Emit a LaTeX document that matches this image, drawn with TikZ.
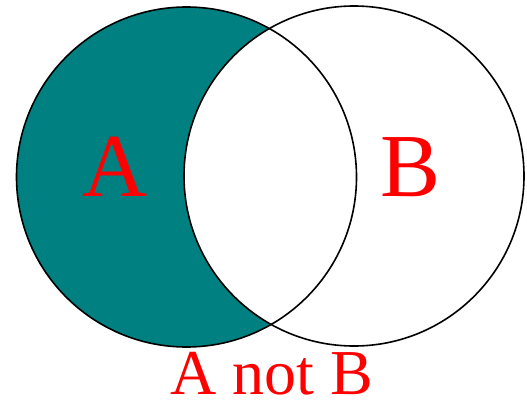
\documentclass[tikz,border=0pt]{standalone}
\usepackage{fontspec}
\setmainfont{Liberation Serif}
\usepackage{tikz}
\definecolor{vennteal}{RGB}{0,128,128}
\definecolor{vennred}{RGB}{255,0,0}

\begin{document}
\begin{tikzpicture}[
  x=1pt, y=1pt,
  ring/.style={draw=black, line width=1.6pt},
  setlbl/.style={text=vennred, font=\fontsize{90}{90}\selectfont, anchor=base, inner sep=0pt},
  caption/.style={text=vennred, font=\fontsize{64}{64}\selectfont, anchor=base, inner sep=0pt}]
\useasboundingbox (0,0) rectangle (527,400);
\coordinate (ca) at (186.5,223);
\coordinate (cb) at (354,224);
% A minus B
\begin{scope}[even odd rule]
  \clip (cb) circle[radius=170] (-10,-10) rectangle (540,410);
  \fill[vennteal] (ca) circle[radius=170];
\end{scope}
\draw[ring] (ca) circle[radius=170];
\draw[ring] (cb) circle[radius=170];
\node[setlbl] (la) at (115,204) {A};
\node[setlbl] (lb) at (410.5,204) {B};
\node[caption] (cap) at (271.5,6) {A not B};
\end{tikzpicture}
\end{document}
